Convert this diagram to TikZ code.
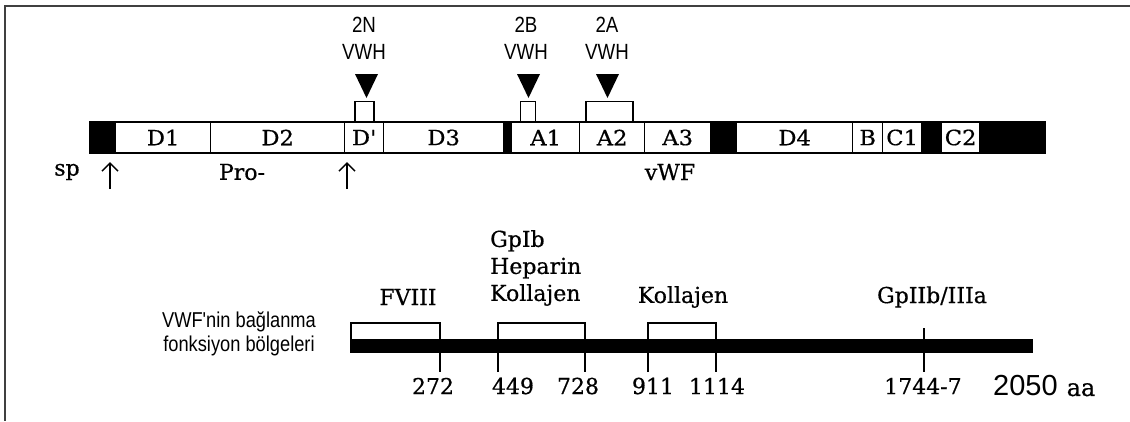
\documentclass[tikz,border=0pt]{standalone}
\usepackage{fontspec}
\usetikzlibrary{arrows.meta}
\newfontfamily\prt[FakeBold=0.6]{DejaVu Serif}
\newfontfamily\prtwide[FakeStretch=1.08,FakeBold=0.6]{DejaVu Serif}
\newfontfamily\lbl[FakeStretch=0.85]{Liberation Sans}
\newfontfamily\lblplain{Liberation Sans}
\tikzset{
  seg/.style={draw=black, line width=1.3pt, fill=white, minimum height=31pt,
    inner sep=0pt, anchor=west, font=\prtwide\fontsize{21}{21}\selectfont},
  blk/.style={draw=black, line width=1.3pt, fill=black, minimum height=31pt,
    inner sep=0pt, anchor=west},
  mbox/.style={draw=black, line width=1.3pt, fill=white, minimum height=20pt,
    inner sep=0pt, anchor=south},
  tri/.style={fill=black},
  sans/.style={font=\lbl\fontsize{22}{27}\selectfont, align=center, inner sep=0pt},
  serif/.style={font=\prt\fontsize{22}{27}\selectfont, align=center, inner sep=0pt},
  num/.style={font=\prt\fontsize{22}{22}\selectfont, inner sep=0pt},
  brk/.style={line width=1.5pt},
  upar/.style={line width=1.5pt, -{Straight Barb[length=8pt,width=16pt,line width=1.5pt]}},
}
\begin{document}
\begin{tikzpicture}[x=1pt,y=-1pt]
\useasboundingbox (0,0) rectangle (1130,421);
% frame
\draw[line width=2pt, draw=black!75] (1130,6) -- (5,6) -- (5,421);

% protein domains
\node[blk, minimum width=26pt]  (sp0) at (89,137.5) {};
\node[seg, minimum width=95pt]  (d1)  at (115,137.5) {D1};
\node[seg, minimum width=134pt] (d2)  at (210,137.5) {D2};
\node[seg, minimum width=39pt]  (dp)  at (344,137.5) {D'};
\node[seg, minimum width=120pt] (d3)  at (383,137.5) {D3};
\node[blk, minimum width=8pt]   (k1)  at (503,137.5) {};
\node[seg, minimum width=68pt]  (a1)  at (511,137.5) {A1};
\node[seg, minimum width=65pt]  (a2)  at (579,137.5) {A2};
\node[seg, minimum width=66pt]  (a3)  at (644,137.5) {A3};
\node[blk, minimum width=26pt]  (k2)  at (710,137.5) {};
\node[seg, minimum width=116pt] (d4)  at (736,137.5) {D4};
\node[seg, minimum width=30pt]  (b)   at (852,137.5) {B};
\node[seg, minimum width=39pt]  (c1)  at (882,137.5) {C1};
\node[blk, minimum width=20pt]  (k3)  at (921,137.5) {};
\node[seg, minimum width=38pt]  (c2)  at (941,137.5) {C2};
\node[blk, minimum width=66pt]  (k4)  at (979,137.5) {};

% mutation sites
\node[mbox, minimum width=19pt] (m2n) at (364.5,122) {};
\node[mbox, minimum width=15pt] (m2b) at (528,122) {};
\node[mbox, minimum width=47pt] (m2a) at (609.5,122) {};
\fill[tri] (355,74) -- (378,74) -- (366.5,98) -- cycle;
\fill[tri] (517,74) -- (540,74) -- (528.5,98) -- cycle;
\fill[tri] (596,74) -- (619,74) -- (607.5,98) -- cycle;
\node[sans] (l2n) at (364,38.5) {2N\\VWH};
\node[sans] (l2b) at (526,38.5) {2B\\VWH};
\node[sans] (l2a) at (607,38.5) {2A\\VWH};

% cleavage sites and labels
\node[serif] (sp)  at (67,172) {sp};
\node[serif] (pro) at (242,172) {Pro-};
\node[serif] (vwf) at (670,172) {vWF};
\coordinate (c1a) at (110,189);
\coordinate (c1b) at (110,162);
\coordinate (c2a) at (347,189);
\coordinate (c2b) at (347,162);
\draw[upar] (c1a) -- (c1b);
\draw[upar] (c2a) -- (c2b);

% binding regions
\node[sans, font=\lbl\fontsize{21.5}{24}\selectfont] (bind) at (239,334) {VWF'nin bağlanma\\fonksiyon bölgeleri};
\fill (350,339) rectangle (1033,353);
\draw[brk] (351,339) |- (440,323) -- (440,372);
\draw[brk] (498,372) |- (585,323) -- (585,372);
\draw[brk] (648,372) |- (716,323) -- (716,372);
\draw[brk] (924,328) -- (924,372);

\node[serif] (fviii) at (408,297) {FVIII};
\node[serif, align=left, anchor=west] (gp) at (490,268) {GpIb\\Heparin\\Kollajen};
\node[serif] (kol) at (683,297) {Kollajen};
\node[serif] (gp2) at (932,297) {GpIIb/IIIa};

\node[num] (n272)  at (433,386) {272};
\node[num] (n449)  at (513,386) {449};
\node[num] (n728)  at (578,386) {728};
\node[num] (n911)  at (653,386) {911};
\node[num] (n1114) at (717,386) {1114};
\node[num] (n1744) at (923,386) {1744-7};
\node[num, anchor=west] (n2050) at (993,386) {{\lblplain\fontsize{29}{29}\selectfont 2050}\hspace{9pt}{\fontsize{24}{24}\selectfont aa}};
\end{tikzpicture}
\end{document}
